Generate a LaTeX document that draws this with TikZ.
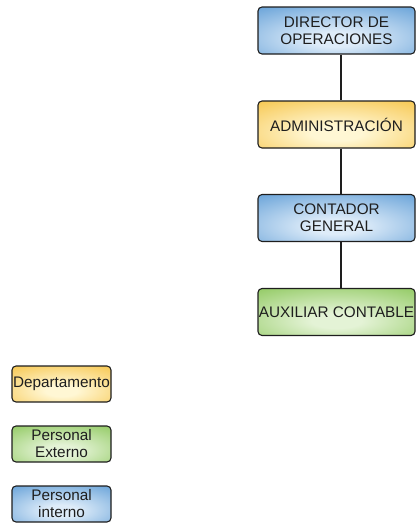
\documentclass[tikz,border=0pt]{standalone}
\usepackage{fontspec}
\setmainfont{Liberation Sans}
\definecolor{bluedge}{RGB}{92,155,213}
\definecolor{bluemid}{RGB}{222,236,249}
\definecolor{yelledge}{RGB}{246,194,66}
\definecolor{yellmid}{RGB}{255,247,212}
\definecolor{grnedge}{RGB}{138,198,88}
\definecolor{grnmid}{RGB}{228,243,214}
\definecolor{ink}{RGB}{30,30,30}
% glow sitting low in the box, fading to the edge colour
\pgfdeclareradialshading{blueglow}{\pgfpoint{0bp}{-10bp}}{%
  color(0bp)=(bluemid); color(8bp)=(bluemid); color(44bp)=(bluedge); color(100bp)=(bluedge)}
\pgfdeclareradialshading{yellglow}{\pgfpoint{0bp}{-10bp}}{%
  color(0bp)=(yellmid); color(8bp)=(yellmid); color(44bp)=(yelledge); color(100bp)=(yelledge)}
\pgfdeclareradialshading{grnglow}{\pgfpoint{0bp}{-10bp}}{%
  color(0bp)=(grnmid); color(8bp)=(grnmid); color(44bp)=(grnedge); color(100bp)=(grnedge)}
\begin{document}
\begin{tikzpicture}[x=1pt,y=-1pt,
  box/.style={draw=ink,line width=1.1pt,rounded corners=4pt,align=center,
    inner sep=0pt,text=ink,font=\fontsize{15.3}{17}\selectfont},
  mainbox/.style={box,minimum width=157pt,minimum height=47pt},
  keybox/.style={box,minimum width=99pt,minimum height=36pt},
  bluefill/.style={shading=blueglow},
  yellfill/.style={shading=yellglow},
  grnfill/.style={shading=grnglow},
  link/.style={draw=ink,line width=1.1pt}]
\useasboundingbox (0,0) rectangle (416,523);
% chain of positions
\node[mainbox,bluefill] (dir) at (336.5,30.5) {DIRECTOR DE\\OPERACIONES};
\node[mainbox,yellfill] (adm) at (336.5,124.5) {ADMINISTRACIÓN};
\node[mainbox,bluefill] (cont) at (336.5,218) {CONTADOR\\GENERAL};
\node[mainbox,grnfill] (aux) at (336.5,312) {AUXILIAR CONTABLE};
\draw[link] (dir.south -| 341,0) -- (adm.north -| 341,0);
\draw[link] (adm.south -| 341,0) -- (cont.north -| 341,0);
\draw[link] (cont.south -| 341,0) -- (aux.north -| 341,0);
% key
\node[keybox,yellfill] (kdep) at (61.5,384) {Departamento};
\node[keybox,grnfill] (kext) at (61.5,444) {Personal\\Externo};
\node[keybox,bluefill] (kint) at (61.5,504) {Personal\\interno};
\end{tikzpicture}
\end{document}
